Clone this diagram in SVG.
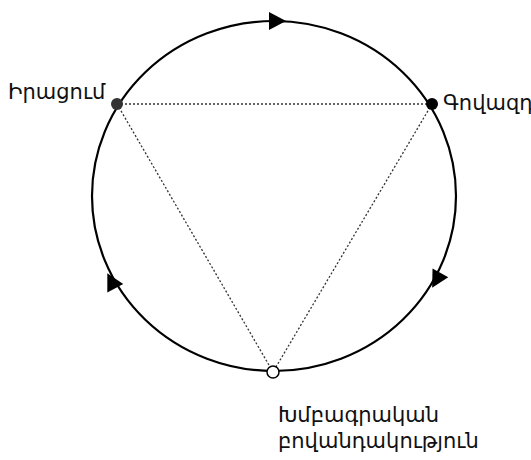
<svg xmlns="http://www.w3.org/2000/svg" width="531" height="460" viewBox="0 0 531 460">
<style>
.ring{fill:none;stroke:#000;stroke-width:2.2}
.dot{fill:none;stroke:#333;stroke-width:1.3;stroke-dasharray:2 2}
.arr{fill:#000}
.lbl{font-family:"DejaVu Sans","Noto Sans",sans-serif;font-size:21px;fill:#111}
</style>
<rect width="531" height="460" fill="#fff"/>
<g id="connectors">
<ellipse class="ring" cx="274" cy="196" rx="182" ry="175"/>
<line class="dot" x1="117" y1="104" x2="432" y2="104"/>
<line class="dot" x1="117" y1="104" x2="273" y2="372"/>
<line class="dot" x1="432" y1="104" x2="273" y2="372"/>
<polygon class="arr" points="10,0 -7,-9 -7,9" transform="translate(276,21)"/>
<polygon class="arr" points="10,0 -7,-9 -7,9" transform="translate(437,279) rotate(119)"/>
<polygon class="arr" points="10,0 -7,-9 -7,9" transform="translate(112,282) rotate(-118)"/>
</g>
<g id="node-left">
<circle cx="117" cy="104" r="6" fill="#333"/>
<text class="lbl" x="8" y="99">Իրացում</text>
</g>
<g id="node-right">
<circle cx="432" cy="104" r="6" fill="#000"/>
<text class="lbl" x="443" y="110">Գովազդ</text>
</g>
<g id="node-bottom">
<circle cx="273" cy="372" r="6" fill="#fff" stroke="#000" stroke-width="1.5"/>
<text class="lbl" x="278" y="422">Խմբագրական</text>
<text class="lbl" x="278" y="448">բովանդակություն</text>
</g>
</svg>
